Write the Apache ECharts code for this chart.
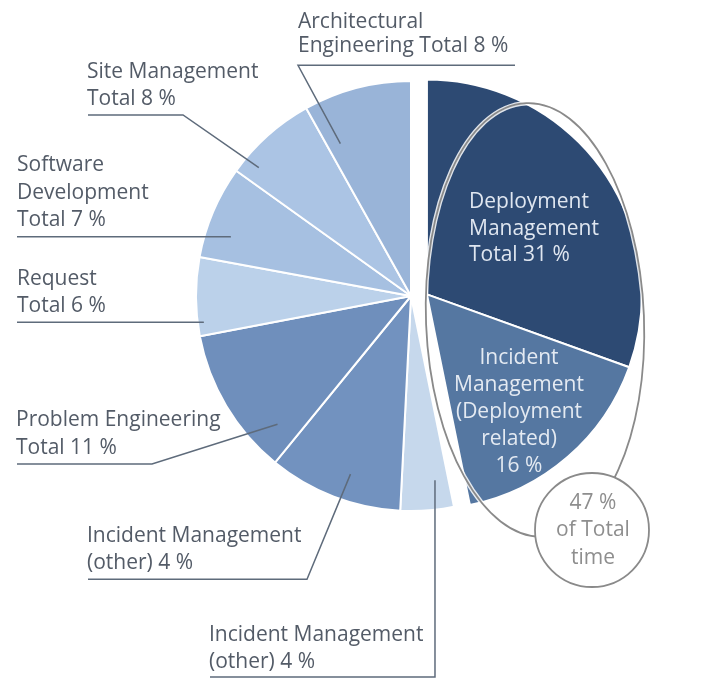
<!DOCTYPE html>
<html>
<head>
<meta charset="utf-8">
<script src="https://cdn.jsdelivr.net/npm/echarts@6/dist/echarts.min.js"></script>
<style>
html,body{margin:0;padding:0;background:#fff;}
#chart{width:702px;height:689px;}
</style>
</head>
<body>
<div id="chart"></div>
<script>
// ---------------- data ----------------
const categories = [
  'Deployment Management',
  'Incident Management (Deployment related)',
  'Incident Management (other)',
  'Incident Management (other)',
  'Problem Engineering',
  'Request',
  'Software Development',
  'Site Management',
  'Architectural Engineering'
];
// slice sizes as drawn in the picture (share of the full circle)
const sliceValues = [30.5, 16.3, 4.0, 10.1, 11.1, 5.9, 7.0, 7.0, 8.1];
// percentages as printed in the labels
const printedPercents = [31, 16, 4, 4, 11, 6, 7, 8, 8];
const labelHeads = [
  'Deployment\nManagement\nTotal ',
  'Incident\nManagement\n(Deployment\nrelated)\n',
  'Incident Management\n(other) ',
  'Incident Management\n(other) ',
  'Problem Engineering\nTotal ',
  'Request\nTotal ',
  'Software\nDevelopment\nTotal ',
  'Site Management\nTotal ',
  'Architectural\nEngineering Total '
];
const explodedCount = 2;   // first two slices are pulled out
const summaryLines = ['of Total', 'time'];

// ---------------- layout / style ----------------
const C0 = [411, 296];
const R = 215;
const EXPLODE = 16;
const colors = ['#2d4a73', '#5577a1', '#c6d8ec', '#7292bf', '#6f8fbc', '#bbd1ea', '#a6c0e1', '#abc4e4', '#99b4d8'];
const FONT = '"Open Sans", "Noto Sans", sans-serif';
const FS = 21;
const TEXT_COLOR = '#535b67';
const LINE_COLOR = '#5e6b7b';
const MID_OFF = 6.3; // baseline below line middle

// outside label placement (text left x, first baseline, line height, underline, anchor inside slice)
const outLayout = {
  2: {x: 209, base: 641, lh: 27, uy: 677, ux0: 210, ux1: 435, join: 'right', t: 0.285, rf: 0.864},
  3: {x: 87, base: 542.3, lh: 27, uy: 579.3, ux0: 88, ux1: 307, join: 'right', t: 0.437, rf: 0.875},
  4: {x: 16, base: 426.7, lh: 27.3, uy: 464, ux0: 17, ux1: 152, join: 'right', t: 0.173, rf: 0.861},
  5: {x: 17, base: 285, lh: 27, uy: 322.3, ux0: 17, ux1: 203, join: 'right', t: 0.17, rf: 0.971},
  6: {x: 17, base: 171.7, lh: 27.5, uy: 236.7, ux0: 17, ux1: 230, join: 'right', t: 0.306, rf: 0.882},
  7: {x: 87, base: 78.3, lh: 27.4, uy: 115, ux0: 88, ux1: 183, join: 'right', t: 0.179, rf: 0.926},
  8: {x: 298, base: 28.3, lh: 24.5, uy: 65.3, ux0: 298, ux1: 515, join: 'left', t: 0.147, rf: 0.781}
};
const inLayout = {
  0: {x: 469, base: 208.3, lh: 26.7, align: 'left', color: '#dfe6f0'},
  1: {x: 519, base: 364, lh: 27, align: 'center', color: '#e4eaf2'}
};

// ---------------- derived ----------------
const total = sliceValues.reduce((a, b) => a + b, 0);
const startDeg = [];
{ let acc = 0; sliceValues.forEach(v => { startDeg.push(acc / total * 360); acc += v; }); }
const spanDeg = sliceValues.map(v => v / total * 360);
const explodedSum = sliceValues.slice(0, explodedCount).reduce((a, b) => a + b, 0);
const explodeMid = explodedSum / total * Math.PI;
const C1 = [C0[0] + EXPLODE * Math.sin(explodeMid), C0[1] - EXPLODE * Math.cos(explodeMid)];

function anchor(i, t, rf) {
  const a = (startDeg[i] + t * spanDeg[i]) * Math.PI / 180;
  return [C0[0] + rf * R * Math.sin(a), C0[1] - rf * R * Math.cos(a)];
}
const labelText = i => labelHeads[i] + printedPercents[i] + ' %';

const hidden = {color: 'rgba(0,0,0,0)', borderWidth: 0};

// visible slices of the main (not pulled-out) part
const mainData = categories.map((name, i) => ({
  name: name,
  value: sliceValues[i],
  itemStyle: i < explodedCount ? hidden : {color: colors[i]}
}));
// transparent overlay carrying labels and leader lines above all slices
const labelData = categories.map((name, i) => ({
  name: name,
  value: sliceValues[i],
  itemStyle: hidden,
  label: {show: i >= explodedCount, lineHeight: outLayout[i] ? outLayout[i].lh : 27},
  labelLine: {show: i >= explodedCount}
}));
// pulled-out slices
const explodedData = categories.slice(0, explodedCount).map((name, i) => ({
  name: name,
  value: sliceValues[i],
  itemStyle: {color: colors[i]},
  label: {show: true, lineHeight: inLayout[i].lh, color: inLayout[i].color}
}));
explodedData.push({name: 'rest', value: total - explodedSum, itemStyle: hidden, label: {show: false}});

const chart = echarts.init(document.getElementById('chart'), null, {renderer: 'canvas'});

const option = {
  backgroundColor: '#fff',
  animation: false,
  series: [
    {
      type: 'pie', z: 1,
      center: C0, radius: R, startAngle: 90, clockwise: true,
      avoidLabelOverlap: false, silent: true,
      itemStyle: {borderColor: '#fff', borderWidth: 2},
      label: {show: false}, labelLine: {show: false},
      data: mainData
    },
    {
      type: 'pie', z: 2,
      center: C1, radius: R, startAngle: 90, clockwise: true,
      avoidLabelOverlap: false, silent: true,
      itemStyle: {borderColor: '#fff', borderWidth: 2},
      label: {
        position: 'inside',
        formatter: p => labelText(p.dataIndex),
        fontFamily: FONT, fontSize: FS
      },
      labelLine: {show: false},
      labelLayout: function (p) {
        const c = inLayout[p.dataIndex];
        if (!c) return {};
        return {x: c.x, y: c.base - c.lh / 2 - MID_OFF, align: c.align, verticalAlign: 'top'};
      },
      data: explodedData
    },
    {
      type: 'pie', z: 5,
      center: C0, radius: R, startAngle: 90, clockwise: true,
      avoidLabelOverlap: false, silent: true,
      label: {
        position: 'outside',
        formatter: p => labelText(p.dataIndex),
        fontFamily: FONT, fontSize: FS, color: TEXT_COLOR
      },
      labelLine: {show: true, smooth: false, lineStyle: {color: LINE_COLOR, width: 1.5}},
      labelLayout: function (p) {
        const c = outLayout[p.dataIndex];
        if (!c) return {};
        const a = anchor(p.dataIndex, c.t, c.rf);
        const endX = c.join === 'right' ? c.ux1 : c.ux0;
        const otherX = c.join === 'right' ? c.ux0 : c.ux1;
        return {
          x: c.x,
          y: c.base - c.lh / 2 - MID_OFF,
          align: 'left',
          verticalAlign: 'top',
          labelLinePoints: [a, [endX, c.uy], [otherX, c.uy]]
        };
      },
      data: labelData
    }
  ],
  graphic: [
    {
      type: 'ellipse', x: 535, y: 320, rotation: 0.04,
      shape: {cx: 0, cy: 0, rx: 109, ry: 217},
      style: {fill: 'none', stroke: 'rgba(255,255,255,0.85)', lineWidth: 4.5},
      z: 100, silent: true
    },
    {
      type: 'ellipse', x: 535, y: 320, rotation: 0.04,
      shape: {cx: 0, cy: 0, rx: 109, ry: 217},
      style: {fill: 'none', stroke: '#8a8a8a', lineWidth: 1.8},
      z: 101, silent: true
    },
    {
      type: 'circle',
      shape: {cx: 592, cy: 530, r: 57},
      style: {fill: '#fff', stroke: '#8a8a8a', lineWidth: 1.8},
      z: 102, silent: true
    },
    {
      type: 'text', x: 593, y: 509 - 27.5 / 2 - MID_OFF,
      style: {
        text: (printedPercents.slice(0, explodedCount).reduce((a, b) => a + b, 0)) + ' %\n' + summaryLines.join('\n'),
        align: 'center', verticalAlign: 'top',
        fontFamily: FONT, fontSize: FS, lineHeight: 27.5,
        fill: '#8e8e8e'
      },
      z: 103, silent: true
    }
  ]
};
chart.setOption(option);
</script>
</body>
</html>
